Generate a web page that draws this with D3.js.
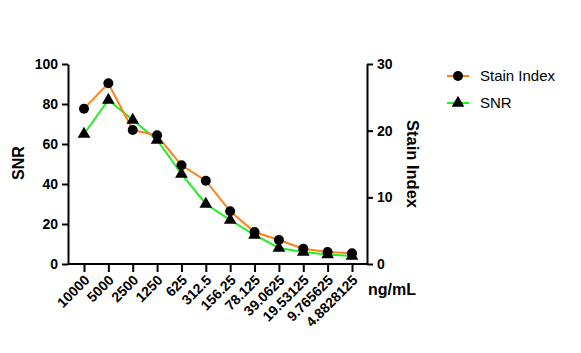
<!DOCTYPE html>
<html>
<head>
<meta charset="utf-8">
<script src="https://cdn.jsdelivr.net/npm/d3@7"></script>
<style>
  body { margin: 0; background: #fff; }
  text { font-family: "Liberation Sans", Arial, sans-serif; }
</style>
</head>
<body>
<svg id="chart" width="581" height="353"></svg>
<script>
var concentrations = ["10000","5000","2500","1250","625","312.5","156.25","78.125","39.0625","19.53125","9.765625","4.8828125"];
var stainIndex = [23.3, 27.1, 20.1, 19.3, 14.8, 12.5, 7.9, 4.8, 3.6, 2.3, 1.8, 1.6];
var snr = [65, 82, 72, 62, 45, 30, 22, 14.5, 8, 6, 4.7, 4];
var snrTicks = [0, 20, 40, 60, 80, 100];
var siTicks = [0, 10, 20, 30];

var orange = "#ff8018";
var green = "#1ff01f";

var svg = d3.select("#chart");
var axLeft = 68, axRight = 367, axTop = 64, axBottom = 264;

var x = d3.scalePoint().domain(concentrations).range([84, 352]);
var yL = d3.scaleLinear().domain([0, 100]).range([axBottom, axTop]);
var yR = d3.scaleLinear().domain([0, 30]).range([axBottom, axTop]);

function styleAxis(g) {
  g.selectAll("path, line").attr("stroke", "#000").attr("stroke-width", 2);
  g.selectAll("text").attr("font-size", 14).attr("font-weight", "bold").attr("fill", "#000")
    .attr("font-family", "Liberation Sans, Arial, sans-serif");
}

// left axis
var gl = svg.append("g").attr("transform", "translate(" + axLeft + ",0)")
  .call(d3.axisLeft(yL).tickValues(snrTicks).tickSize(6).tickSizeOuter(0));
styleAxis(gl);
gl.selectAll("text").attr("x", -10);

// right axis
var gr = svg.append("g").attr("transform", "translate(" + axRight + ",0)")
  .call(d3.axisRight(yR).tickValues(siTicks).tickSize(6).tickSizeOuter(0));
styleAxis(gr);
gr.selectAll("text").attr("x", 10);

// bottom axis
var gb = svg.append("g").attr("transform", "translate(0," + axBottom + ")")
  .call(d3.axisBottom(x).tickSize(8).tickSizeOuter(0));
gb.select(".domain").attr("d", "M" + axLeft + ",0H" + axRight);
styleAxis(gb);
gb.selectAll("text")
  .attr("text-anchor", "end")
  .attr("dy", null)
  .attr("y", 0)
  .attr("transform", "translate(6,17) rotate(-45)");

// axis titles
svg.append("text").attr("transform", "translate(24,163) rotate(-90)")
  .attr("text-anchor", "middle").attr("font-size", 16).attr("font-weight", "bold").text("SNR");
svg.append("text").attr("transform", "translate(407,164) rotate(90)")
  .attr("text-anchor", "middle").attr("font-size", 16.5).attr("font-weight", "bold").text("Stain Index");
svg.append("text").attr("x", 368).attr("y", 295)
  .attr("font-size", 16).attr("font-weight", "bold").text("ng/mL");

// lines
var siLine = d3.line().x(function(d, i) { return x(concentrations[i]); }).y(function(d) { return yR(d); });
var snrLine = d3.line().x(function(d, i) { return x(concentrations[i]); }).y(function(d) { return yL(d); });

svg.append("path").attr("d", snrLine(snr)).attr("fill", "none").attr("stroke", green).attr("stroke-width", 2);
svg.append("path").attr("d", siLine(stainIndex)).attr("fill", "none").attr("stroke", orange).attr("stroke-width", 2);

var tri = d3.symbol().type(d3.symbolTriangle).size(70);
svg.selectAll(".snrpt").data(snr).enter().append("path")
  .attr("class", "snrpt")
  .attr("d", tri)
  .attr("transform", function(d, i) { return "translate(" + x(concentrations[i]) + "," + yL(d) + ")"; })
  .attr("fill", "#000");

svg.selectAll(".sipt").data(stainIndex).enter().append("circle")
  .attr("class", "sipt")
  .attr("cx", function(d, i) { return x(concentrations[i]); })
  .attr("cy", function(d) { return yR(d); })
  .attr("r", 5)
  .attr("fill", "#000");

// legend
var legend = [
  { name: "Stain Index", color: orange, shape: "circle" },
  { name: "SNR", color: green, shape: "triangle" }
];
var lg = svg.selectAll(".leg").data(legend).enter().append("g")
  .attr("class", "leg")
  .attr("transform", function(d, i) { return "translate(447," + (76 + i * 27) + ")"; });
lg.append("line").attr("x1", 0).attr("x2", 22).attr("stroke", function(d) { return d.color; }).attr("stroke-width", 2);
lg.each(function(d) {
  var g = d3.select(this);
  if (d.shape == "circle") g.append("circle").attr("cx", 11).attr("r", 5).attr("fill", "#000");
  else g.append("path").attr("d", tri).attr("transform", "translate(11,0)").attr("fill", "#000");
});
lg.append("text").attr("x", 33).attr("dy", "0.35em").attr("font-size", 15).text(function(d) { return d.name; });
</script>
</body>
</html>
